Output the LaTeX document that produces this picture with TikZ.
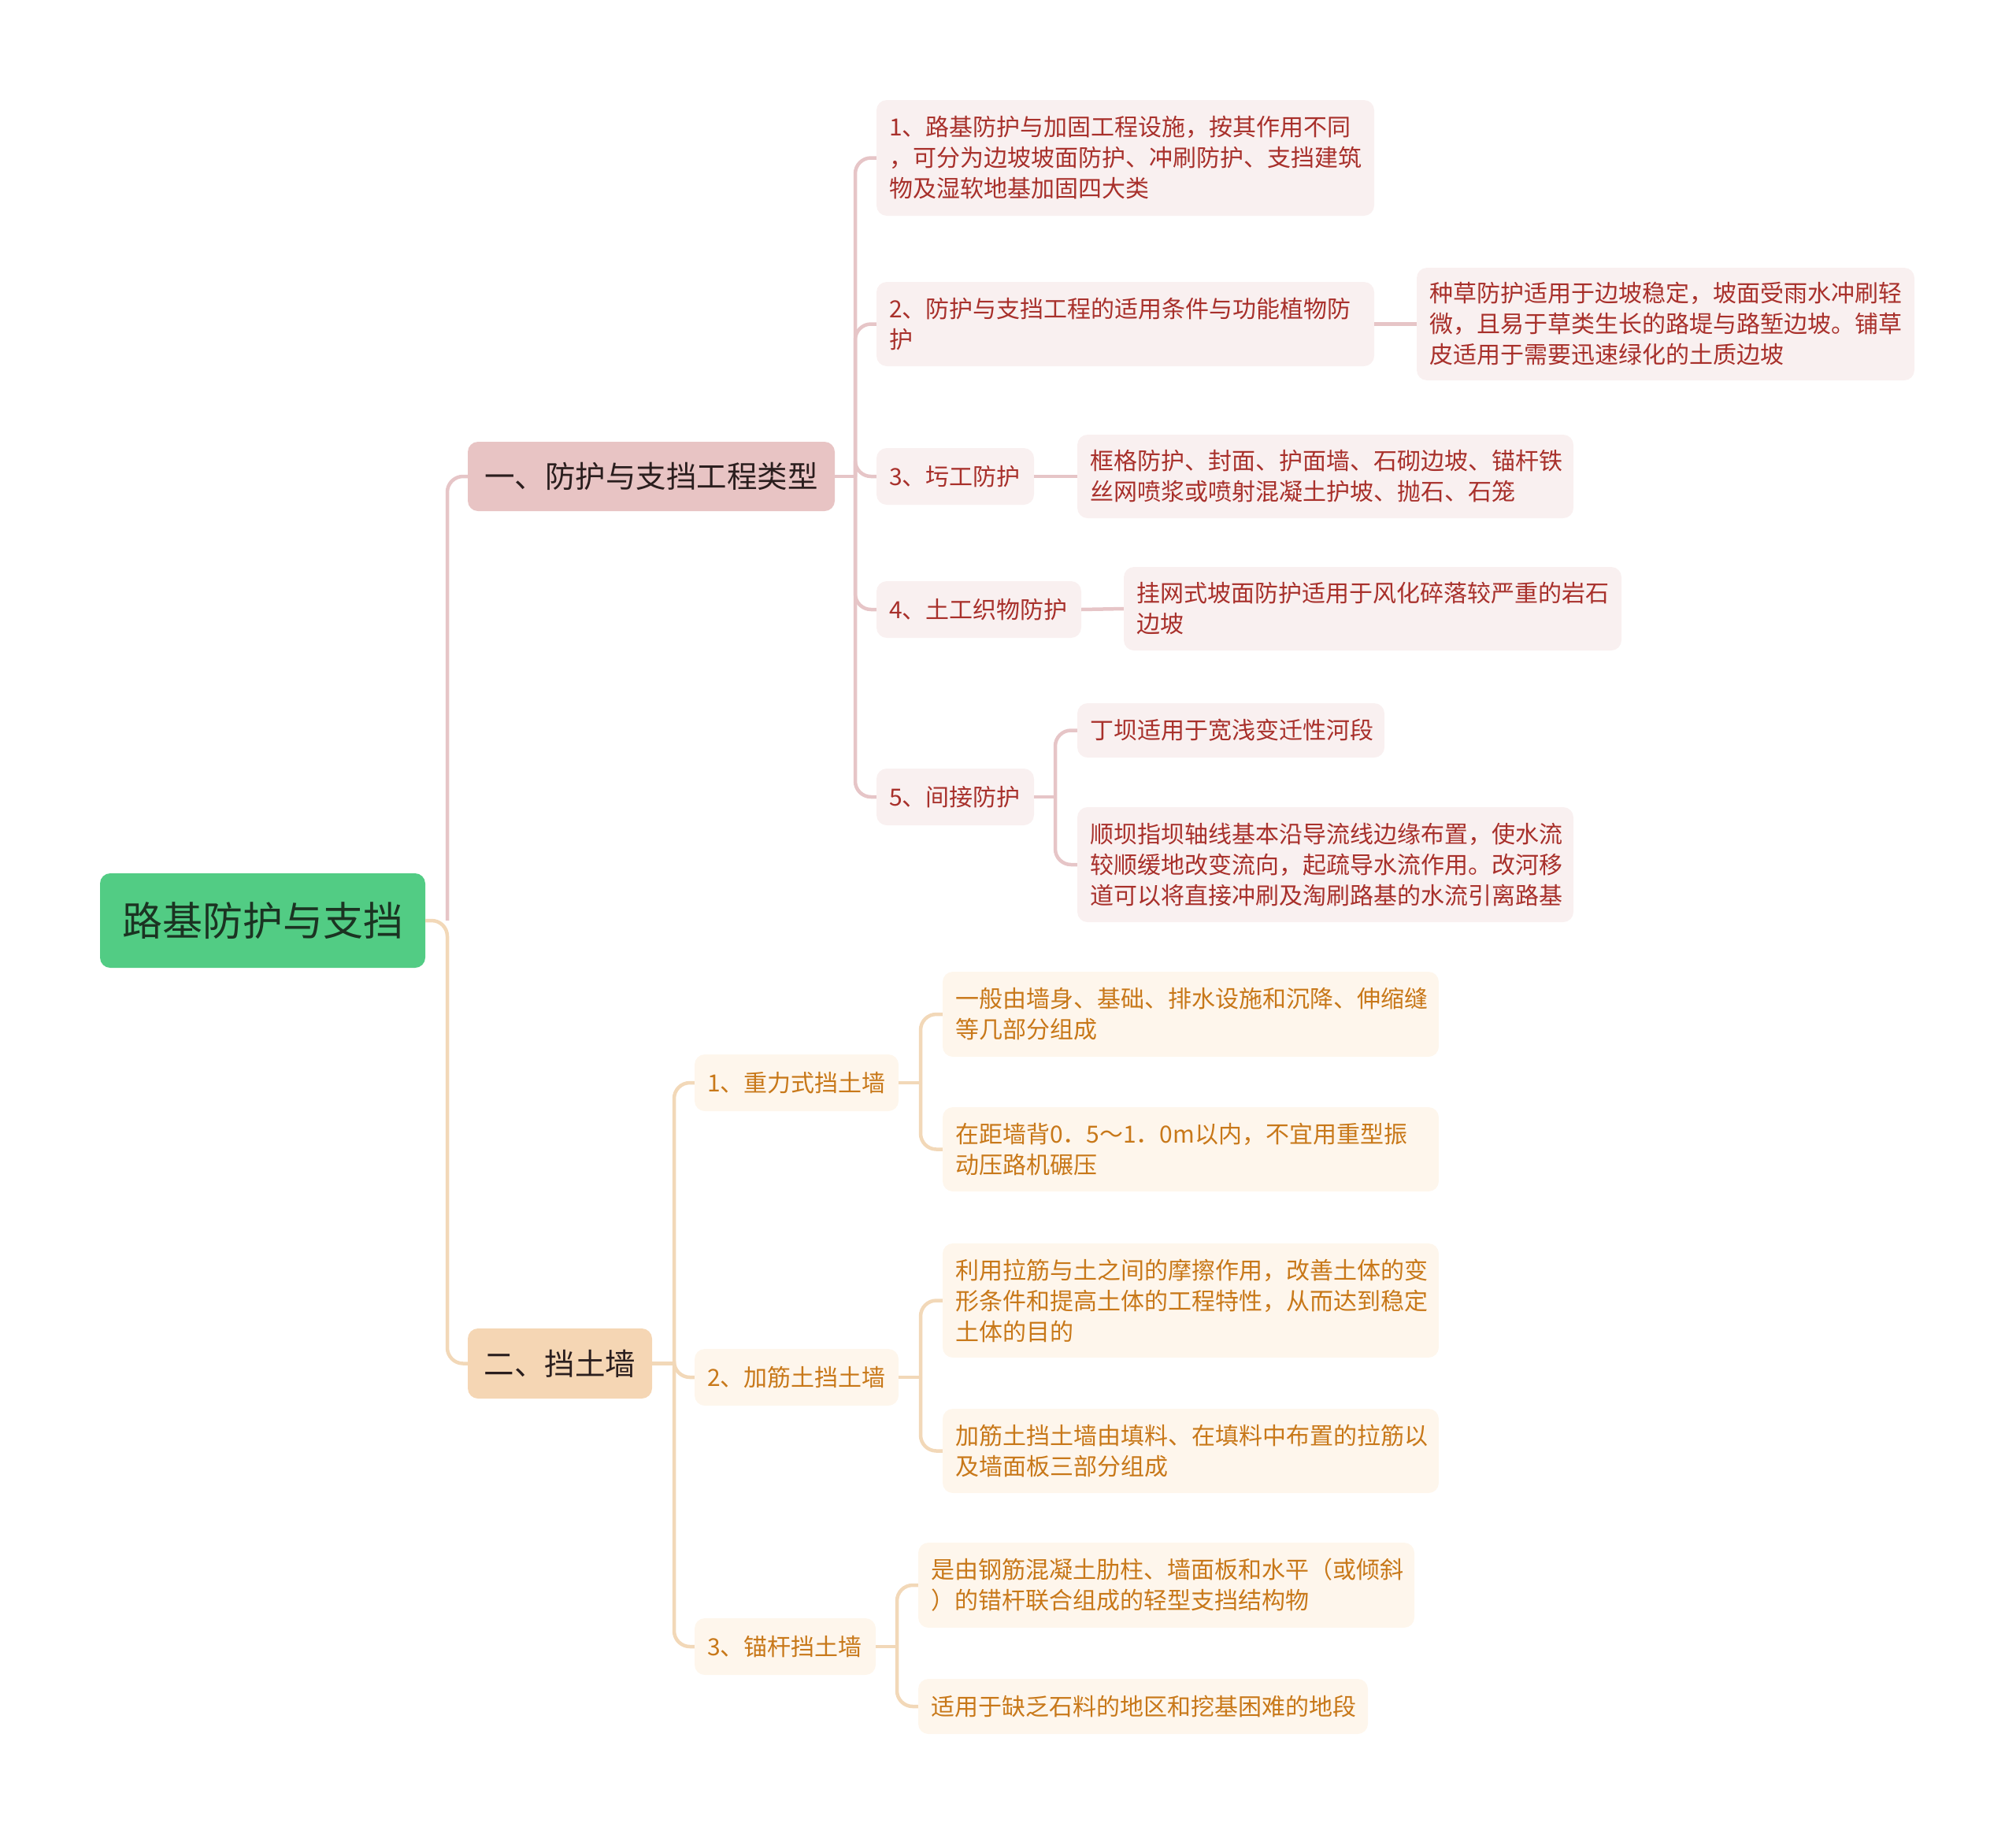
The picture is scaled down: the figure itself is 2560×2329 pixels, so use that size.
\documentclass[tikz,border=0pt]{standalone}
\usepackage{fontspec}
\setmainfont{Noto Sans CJK SC}
\definecolor{rootg}{HTML}{52CC84}
\definecolor{roott}{HTML}{1B3322}
\definecolor{lonef}{HTML}{E8C4C4}
\definecolor{ltwof}{HTML}{F5D6B4}
\definecolor{darkt}{HTML}{2A1E1E}
\definecolor{redf}{HTML}{F9F0F0}
\definecolor{redt}{HTML}{A8302B}
\definecolor{orf}{HTML}{FEF6EC}
\definecolor{ort}{HTML}{C87819}
\definecolor{redl}{HTML}{E6C5C7}
\definecolor{orl}{HTML}{F2D8B8}
\tikzset{
  base/.style={rounded corners=13pt, inner xsep=16pt, inner ysep=0pt, draw=none},
  rootbox/.style={base, fill=rootg, text=roott, align=center, font=\fontsize{51}{60}\selectfont},
  onebox/.style={base, fill=lonef, text=darkt, align=center, font=\fontsize{38.5}{46}\selectfont},
  twobox/.style={base, fill=ltwof, text=darkt, align=center, font=\fontsize{38.5}{46}\selectfont},
  redbox/.style={base, fill=redf, text=redt, align=left, font=\fontsize{30}{39}\selectfont},
  orbox/.style={base, fill=orf, text=ort, align=left, font=\fontsize{30}{39}\selectfont},
  redline/.style={draw=redl, line width=4.5pt, rounded corners=20pt},
  orline/.style={draw=orl, line width=4.5pt, rounded corners=20pt},
}
\newcommand{\bx}[7]{%
  \pgfmathsetmacro{\bxcx}{(#2+#4)/2}%
  \pgfmathsetmacro{\bxcy}{(#3+#5)/2}%
  \pgfmathsetmacro{\bxww}{#4-#2}%
  \pgfmathsetmacro{\bxhh}{#5-#3}%
  \pgfmathsetmacro{\bxtw}{#4-#2-32}%
  \node[#6, minimum width=\bxww pt, minimum height=\bxhh pt, text width=\bxtw pt] (#1) at (\bxcx,\bxcy) {#7};}
\begin{document}
\begin{tikzpicture}[x=1pt,y=-1pt]
\useasboundingbox (0,0) rectangle (2560,2329);
% nodes
\bx{root}{127}{1109}{540}{1229}{rootbox}{路基防护与支挡}
\bx{A}{594}{561}{1060}{649}{onebox}{一、防护与支挡工程类型}
\bx{B}{594}{1687}{828}{1776}{twobox}{二、挡土墙}
% red branch
\bx{A1}{1113}{127}{1745}{274}{redbox}{1、路基防护与加固工程设施，按其作用不同\\，可分为边坡坡面防护、冲刷防护、支挡建筑\\物及湿软地基加固四大类}
\bx{A2}{1113}{358}{1745}{465}{redbox}{2、防护与支挡工程的适用条件与功能植物防\\护}
\bx{A2a}{1799}{340}{2431}{483}{redbox}{种草防护适用于边坡稳定，坡面受雨水冲刷轻\\微，且易于草类生长的路堤与路堑边坡。铺草\\皮适用于需要迅速绿化的土质边坡}
\bx{A3}{1113}{569}{1313}{641}{redbox}{3、圬工防护}
\bx{A3a}{1368}{552}{1998}{658}{redbox}{框格防护、封面、护面墙、石砌边坡、锚杆铁\\丝网喷浆或喷射混凝土护坡、抛石、石笼}
\bx{A4}{1113}{738}{1373}{810}{redbox}{4、土工织物防护}
\bx{A4a}{1427}{720}{2059}{826}{redbox}{挂网式坡面防护适用于风化碎落较严重的岩石\\边坡}
\bx{A5}{1113}{976}{1313}{1048}{redbox}{5、间接防护}
\bx{A5a}{1368}{893}{1758}{962}{redbox}{丁坝适用于宽浅变迁性河段}
\bx{A5b}{1368}{1025}{1998}{1171}{redbox}{顺坝指坝轴线基本沿导流线边缘布置，使水流\\较顺缓地改变流向，起疏导水流作用。改河移\\道可以将直接冲刷及淘刷路基的水流引离路基}
% orange branch
\bx{B1}{882}{1339}{1141}{1411}{orbox}{1、重力式挡土墙}
\bx{B1a}{1197}{1234}{1827}{1342}{orbox}{一般由墙身、基础、排水设施和沉降、伸缩缝\\等几部分组成}
\bx{B1b}{1197}{1406}{1827}{1513}{orbox}{在距墙背0．5～1．0m以内，不宜用重型振\\动压路机碾压}
\bx{B2}{882}{1713}{1141}{1785}{orbox}{2、加筋土挡土墙}
\bx{B2a}{1197}{1579}{1827}{1724}{orbox}{利用拉筋与土之间的摩擦作用，改善土体的变\\形条件和提高土体的工程特性，从而达到稳定\\土体的目的}
\bx{B2b}{1197}{1789}{1827}{1896}{orbox}{加筋土挡土墙由填料、在填料中布置的拉筋以\\及墙面板三部分组成}
\bx{B3}{882}{2055}{1112}{2127}{orbox}{3、锚杆挡土墙}
\bx{B3a}{1166}{1959}{1796}{2067}{orbox}{是由钢筋混凝土肋柱、墙面板和水平（或倾斜\\）的错杆联合组成的轻型支挡结构物}
\bx{B3b}{1166}{2132}{1737}{2202}{orbox}{适用于缺乏石料的地区和挖基困难的地段}
% junction coordinates
\coordinate (j0) at (568,1169);
\coordinate (jA) at (1086,605);
\coordinate (jA5) at (1340,1012);
\coordinate (jB) at (856,1731.5);
\coordinate (jB1) at (1169,1375);
\coordinate (jB2) at (1169,1749);
\coordinate (jB3) at (1139,2091);
% connectors
\draw[redline] (j0) |- (A.west);
\draw[orline] (root.east) -- (j0) |- (B.west);
\draw[redline] (A.east) -- (jA);
\draw[redline] (jA) |- (A1.west);
\draw[redline] (jA) |- (A2.west);
\draw[redline] (jA) |- (A3.west);
\draw[redline] (jA) |- (A4.west);
\draw[redline] (jA) |- (A5.west);
\draw[redline] (A2.east) -- (A2a.west);
\draw[redline] (A3.east) -- (A3a.west);
\draw[redline] (A4.east) -- (A4a.west);
\draw[redline] (A5.east) -- (jA5);
\draw[redline] (jA5) |- (A5a.west);
\draw[redline] (jA5) |- (A5b.west);
\draw[orline] (B.east) -- (jB);
\draw[orline] (jB) |- (B1.west);
\draw[orline] (jB) |- (B2.west);
\draw[orline] (jB) |- (B3.west);
\draw[orline] (B1.east) -- (jB1);
\draw[orline] (jB1) |- (B1a.west);
\draw[orline] (jB1) |- (B1b.west);
\draw[orline] (B2.east) -- (jB2);
\draw[orline] (jB2) |- (B2a.west);
\draw[orline] (jB2) |- (B2b.west);
\draw[orline] (B3.east) -- (jB3);
\draw[orline] (jB3) |- (B3a.west);
\draw[orline] (jB3) |- (B3b.west);
\end{tikzpicture}
\end{document}
